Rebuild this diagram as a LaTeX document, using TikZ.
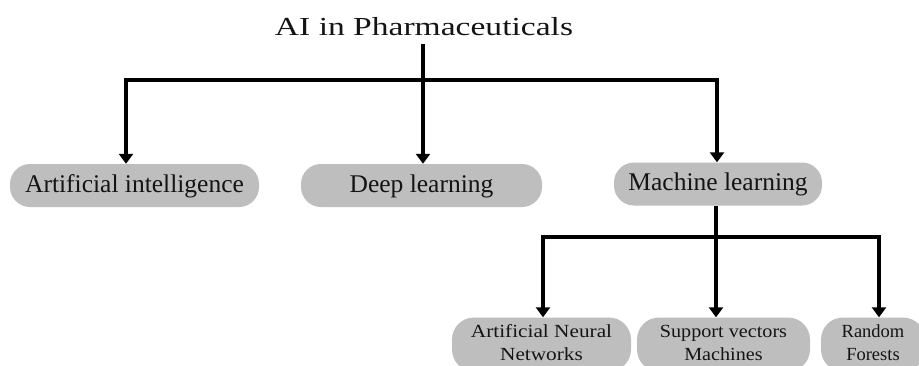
\documentclass[tikz,border=0pt]{standalone}
\usepackage{fontspec}
\setmainfont{Liberation Serif}
\usetikzlibrary{arrows.meta}
\definecolor{boxgray}{RGB}{190,190,190}
\definecolor{txt}{RGB}{20,20,20}
\begin{document}
\begin{tikzpicture}[x=1pt,y=-1pt,
  conn/.style={line width=3.2pt, black, line cap=rect},
  arr/.style={line width=3.2pt, black, -{Triangle[width=14pt,length=10pt]}},
  lvlone/.style={fill=boxgray, rounded corners=20pt, minimum height=43pt, inner sep=0pt,
    text height=17pt, text depth=4pt, font=\fontsize{25.5}{30}\selectfont, text=txt},
  lvltwo/.style={fill=boxgray, rounded corners=22pt, minimum height=54pt, inner sep=0pt,
    font=\fontsize{18.5}{23.5}\selectfont, text=txt}]
\useasboundingbox (0,0) rectangle (919,365);
\clip (0,0) rectangle (919,365);

\node[font=\fontsize{26}{30}\selectfont, text=txt, anchor=base, inner sep=0pt] (title) at (424,35)
  {\scalebox{1.29}[1]{AI in Pharmaceuticals}};

\node[lvlone, minimum width=249pt] (ai) at (134.5,185.5) {Artificial intelligence};
\node[lvlone, minimum width=241pt] (dl) at (421.5,185.5) {Deep learning};
\node[lvlone, minimum width=208pt] (ml) at (718,184) {Machine learning};

\node[lvltwo, minimum width=179pt] (ann) at (541.5,344.5)
  {\scalebox{1.15}[1]{\begin{tabular}{@{}c@{}}Artificial Neural\\Networks\end{tabular}}};
\node[lvltwo, minimum width=173pt] (svm) at (723.5,344.5)
  {\scalebox{1.09}[1]{\begin{tabular}{@{}c@{}}Support vectors\\Machines\end{tabular}}};
\node[lvltwo, minimum width=104pt] (rf) at (873,344.5)
  {\begin{tabular}{@{}c@{}}Random\\Forests\end{tabular}};

\coordinate (stemtop) at (423,46);
\coordinate (hub) at (423,80);
\coordinate (b1) at (126,80);
\coordinate (b3) at (717,80);
\coordinate (c1) at (543,237);
\coordinate (c2) at (716,237);
\coordinate (c3) at (879,237);

\draw[conn] (b1) -- (b3);
\draw[conn] (stemtop) -- (hub);
\draw[arr] (b1) -- (b1 |- ai.north);
\draw[arr] (hub) -- (hub |- dl.north);
\draw[arr] (b3) -- (b3 |- ml.north);

\draw[conn] (c1) -- (c3);
\draw[arr] (ml.south -| c2) -- (c2 |- svm.north);
\draw[arr] (c1) -- (c1 |- ann.north);
\draw[arr] (c3) -- (c3 |- rf.north);
\end{tikzpicture}
\end{document}
